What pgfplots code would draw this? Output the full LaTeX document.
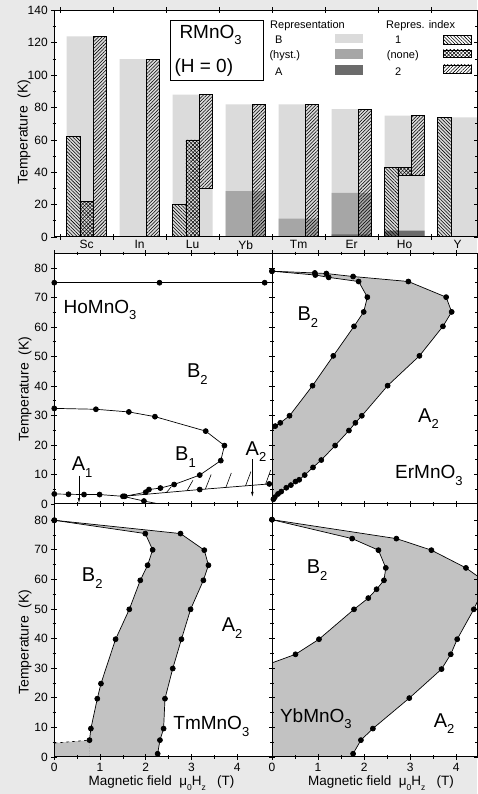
\documentclass[border=0pt]{standalone}
\usepackage{fontspec}
\setmainfont{Liberation Sans}
\usepackage{pgfplots}
\pgfplotsset{compat=1.18}
\usetikzlibrary{patterns.meta,arrows.meta}

\definecolor{bggray}{gray}{0.915}
\definecolor{repB}{gray}{0.86}
\definecolor{repH}{gray}{0.65}
\definecolor{repA}{gray}{0.42}
\definecolor{phase}{gray}{0.76}

\newcommand{\lab}{\fontsize{20}{20}\selectfont}
\newcommand{\cmp}{\fontsize{19}{19}\selectfont}
\newcommand{\bsub}[1]{\raisebox{-0.33em}{\fontsize{13}{13}\selectfont #1}}
\newcommand{\ssub}[1]{\raisebox{-0.35em}{\fontsize{8.5}{8.5}\selectfont #1}}

\tikzset{
  idx1/.style={pattern={Lines[angle=-45,distance=2.4pt,line width=0.55pt]}},
  idx2/.style={pattern={Lines[angle=45,distance=2.4pt,line width=0.55pt]}},
  idxn/.style={pattern={Lines[angle=45,distance=2.6pt,line width=0.5pt]},
    postaction={pattern={Lines[angle=-45,distance=2.6pt,line width=0.5pt]}}},
}

\pgfplotsset{
  panel/.style={
    scale only axis, anchor=south west,
    axis background/.style={fill=white},
    axis on top,
    axis line style={line width=1pt},
    tick style={black, line width=0.8pt},
    major tick length=6pt, minor tick length=3.5pt,
    tick align=center,
    tick label style={font=\fontsize{12}{13}\selectfont},
    /pgf/number format/assume math mode=true,
  },
  phase/.style={
    panel, xmin=0, ymin=0,
    xtick={0,...,4}, minor x tick num=1,
    ytick={0,10,...,80}, minor y tick num=1,
  },
  pl/.style={black, line width=0.7pt, mark=*, mark size=2.5pt},
}

\begin{document}
\begin{tikzpicture}
\useasboundingbox (0,0) rectangle (477pt,794pt);
\fill[bggray] (0,0) rectangle (477pt,794pt);

% ---- RMnO3 at H = 0 ----
\begin{axis}[panel, at={(54.3pt,557pt)}, width=422.7pt, height=226.5pt,
    xmin=-0.61, xmax=7.365, ymin=0, ymax=140,
    xtick={-0.5,0.5,...,7.5}, xticklabels={},
    extra x ticks={0,1,2,3,4,5,6,7},
    extra x tick labels={Sc,In,Lu,Yb,Tm,Er,Ho,Y},
    extra x tick style={major tick length=0pt},
    ytick={0,20,...,140}, minor y tick num=1]
  \addplot[ybar, bar width=0.755, bar shift=0, fill=repB, draw=none]
    coordinates {(0,124)(1,110)(2,88)(3,82)(4,82)(5,79)(6,75)(7,74)};
  \addplot[ybar, bar width=0.755, bar shift=0, fill=repH, draw=none]
    coordinates {(3,28.4)(4,11.3)(5,27.3)};
  \addplot[ybar, bar width=0.755, bar shift=0, fill=repA, draw=none]
    coordinates {(5,1.6)(6,3.9)};
  \addplot[ybar, bar width=0.252, bar shift=-0.252, draw=black, line width=0.7pt, idx1]
    coordinates {(0,62)(2,20)(6,43)(7,74)};
  \addplot[ybar, bar width=0.252, bar shift=0, draw=black, line width=0.7pt, idxn]
    coordinates {(0,22)(2,60)};
  \addplot[ybar, bar width=0.252, bar shift=0.252, draw=black, line width=0.7pt, idx2]
    coordinates {(0,124)(1,110)(3,82)(4,82)(5,79)};
  % bars that do not start at 0
  \addplot[draw=black, line width=0.7pt, idx2]
    coordinates {(2.126,30)(2.126,88)(2.378,88)(2.378,30)} --cycle;
  \addplot[draw=black, line width=0.7pt, idxn]
    coordinates {(5.874,38)(5.874,43)(6.126,43)(6.126,38)} --cycle;
  \addplot[draw=black, line width=0.7pt, idx2]
    coordinates {(6.126,38)(6.126,75)(6.378,75)(6.378,38)} --cycle;
\end{axis}

% ---- HoMnO3 ----
\begin{axis}[phase, at={(54.3pt,290pt)}, width=217.7pt, height=250.5pt,
    xmax=4.76, ymax=84.9, xticklabels={}]
  \addplot[pl, mark indices={1,2,3}] coordinates {(0,75)(2.3,75)(4.6,75)(4.9,75)};
  \addplot[pl] coordinates {(0,32.4)(0.91,32.1)(1.63,31.2)(2.2,29.6)(3.31,24.7)
    (3.72,19.8)(3.64,14.7)(3.18,9.8)(2.62,6.6)(2.32,5.4)(2.07,4.9)(2.0,4.0)(1.54,2.6)};
  \addplot[pl, mark indices={1,...,6}] coordinates {(0,3.4)(0.31,3.3)(0.65,3.2)
    (0.99,3.2)(1.5,2.6)(1.96,1.0)(2.4,-0.3)};
  \addplot[pl, mark indices={2,3}] coordinates {(1.5,2.6)(3.18,4.9)(4.7,6.8)(4.9,7.05)};
  \draw[line width=0.6pt] (axis cs:2.45,3.85) -- (axis cs:2.56,5.9)
    (axis cs:2.9,4.45) -- (axis cs:3.03,8.0)
    (axis cs:3.3,4.95) -- (axis cs:3.43,10.0)
    (axis cs:3.75,5.55) -- (axis cs:3.87,10.5)
    (axis cs:4.18,6.1) -- (axis cs:4.3,11.0)
    (axis cs:4.62,6.7) -- (axis cs:4.73,11.5);
  \draw[line width=0.6pt, -{Latex[length=5pt,width=2.6pt]}] (axis cs:0.54,9.6) -- (axis cs:0.54,0.3);
  \draw[line width=0.6pt, -{Latex[length=5pt,width=2.6pt]}] (axis cs:4.33,15.2) -- (axis cs:4.33,2.4);
  \node[anchor=base west, font=\cmp, inner sep=0] at (axis cs:0.2,64.6) {HoMnO\bsub{3}};
  \node[anchor=base west, font=\lab, inner sep=0] at (axis cs:2.9,42.9) {B\bsub{2}};
  \node[anchor=base west, font=\lab, inner sep=0] at (axis cs:2.64,14.7) {B\bsub{1}};
  \node[anchor=base west, font=\lab, inner sep=0] at (axis cs:0.38,11.3) {A\bsub{1}};
  \node[anchor=base west, font=\lab, inner sep=0] at (axis cs:4.18,16.6) {A\bsub{2}};
\end{axis}

% ---- ErMnO3 ----
\begin{axis}[phase, at={(272pt,290pt)}, width=205pt, height=250.5pt,
    xmax=4.45, ymax=84.9, xticklabels={}, yticklabels={}]
  \addplot[fill=phase, draw=none] coordinates {(0,78.9)(0.93,78.3)(1.18,78.1)(1.76,77.1)
    (2.96,75.4)(3.78,70.1)(3.9,65.1)(3.71,60.2)(3.2,50.2)(2.51,40.1)(1.95,29.9)(1.81,27.5)
    (1.67,24.9)(1.37,19.8)(1.07,14.9)(0.89,12.4)(0.71,9.8)(0.59,8.2)(0.51,7.6)(0.41,6.4)
    (0.31,5.5)(0.2,4.2)(0.13,3.4)(0.06,2.3)(0.03,1.6)(0,1.6)(0,24.9)(0.07,26.4)(0.18,27.5)
    (0.38,29.9)(0.88,40.1)(1.33,50.2)(1.78,60.2)(1.99,65.1)(2.07,70.1)(1.88,75.4)
    (1.23,76.8)(0.94,77.6)} --cycle;
  \addplot[pl] coordinates {(0,78.9)(0.93,78.3)(1.18,78.1)(1.76,77.1)
    (2.96,75.4)(3.78,70.1)(3.9,65.1)(3.71,60.2)(3.2,50.2)(2.51,40.1)(1.95,29.9)(1.81,27.5)
    (1.67,24.9)(1.37,19.8)(1.07,14.9)(0.89,12.4)(0.71,9.8)(0.59,8.2)(0.51,7.6)(0.41,6.4)
    (0.31,5.5)(0.2,4.2)(0.13,3.4)(0.06,2.3)(0.03,1.6)};
  \addplot[pl, mark indices={1,...,12}] coordinates {(0,78.9)(0.94,77.6)(1.23,76.8)
    (1.88,75.4)(2.07,70.1)(1.99,65.1)(1.78,60.2)(1.33,50.2)(0.88,40.1)(0.38,29.9)
    (0.18,27.5)(0.07,26.4)(0,24.9)};
  \node[anchor=base west, font=\lab, inner sep=0] at (axis cs:0.55,62.1) {B\bsub{2}};
  \node[anchor=base west, font=\lab, inner sep=0] at (axis cs:3.17,27.7) {A\bsub{2}};
  \node[anchor=base west, font=\cmp, inner sep=0] at (axis cs:2.67,8.5) {ErMnO\bsub{3}};
\end{axis}

% ---- TmMnO3 ----
\begin{axis}[phase, at={(54.3pt,37pt)}, width=217.7pt, height=253pt,
    xmax=4.76, ymax=85.5]
  \addplot[fill=phase, draw=none] coordinates {(0,80)(2.76,75.5)(3.28,69.9)(3.37,64.8)
    (3.26,59.7)(2.98,49.9)(2.78,39.8)(2.59,29.9)(2.42,19.7)(2.39,9.6)(2.31,5.7)(2.26,1.1)
    (2.24,0)(0,0)(0,4.7)(0.77,5.7)(0.8,9.6)(0.94,19.7)(1.02,24.8)(1.34,39.8)(1.64,49.9)
    (1.88,59.7)(2.04,64.8)(2.15,70)(1.99,75.5)} --cycle;
  \addplot[black, dashed, line width=0.6pt] coordinates {(0,4.7)(0.77,5.7)};
  \addplot[gray!60, densely dotted, line width=0.6pt] coordinates {(0.77,5.7)(0.77,0)};
  \addplot[pl] coordinates {(0,80)(2.76,75.5)(3.28,69.9)(3.37,64.8)(3.26,59.7)(2.98,49.9)
    (2.78,39.8)(2.59,29.9)(2.42,19.7)(2.39,9.6)(2.31,5.7)(2.26,1.1)};
  \addplot[pl] coordinates {(0,80)(1.99,75.5)(2.15,70)(2.04,64.8)(1.88,59.7)(1.64,49.9)
    (1.34,39.8)(1.02,24.8)(0.94,19.7)(0.8,9.6)(0.77,5.7)};
  \node[anchor=base west, font=\lab, inner sep=0] at (axis cs:0.6,59.2) {B\bsub{2}};
  \node[anchor=base west, font=\lab, inner sep=0] at (axis cs:3.66,42.3) {A\bsub{2}};
  \node[anchor=base west, font=\cmp, inner sep=0] at (axis cs:2.6,9.2) {TmMnO\bsub{3}};
\end{axis}

% ---- YbMnO3 ----
\begin{axis}[phase, at={(272pt,37pt)}, width=205pt, height=253pt,
    xmax=4.45, ymax=85.5, yticklabels={}]
  \addplot[fill=phase, draw=none] coordinates {(0,80.2)(2.7,73.8)(3.46,69.9)(4.21,63.9)
    (4.65,59)(4.38,49.9)(4.02,39.8)(3.88,34.7)(3.68,29.7)(2.98,19.9)(2.19,9.6)(1.93,5.7)
    (1.76,1.1)(1.72,0)(0,0)(0,31.8)(0.51,34.7)(1.02,39.8)(1.78,49.9)(2.09,53.7)(2.27,56.7)
    (2.43,59.7)(2.47,63.9)(2.31,69.9)(1.74,73.8)} --cycle;
  \addplot[pl] coordinates {(0,80.2)(2.7,73.8)(3.46,69.9)(4.21,63.9)(4.65,59)(4.38,49.9)
    (4.02,39.8)(3.88,34.7)(3.68,29.7)(2.98,19.9)(2.19,9.6)(1.93,5.7)(1.76,1.1)};
  \addplot[pl, mark indices={1,...,10}] coordinates {(0,80.2)(1.74,73.8)(2.31,69.9)
    (2.47,63.9)(2.43,59.7)(2.27,56.7)(2.09,53.7)(1.78,49.9)(1.02,39.8)(0.51,34.7)(0,31.8)};
  \node[anchor=base west, font=\lab, inner sep=0] at (axis cs:0.75,62) {B\bsub{2}};
  \node[anchor=base west, font=\lab, inner sep=0] at (axis cs:3.51,10.1) {A\bsub{2}};
  \node[anchor=base west, font=\cmp, inner sep=0] at (axis cs:0.17,11.8) {YbMnO\bsub{3}};
\end{axis}

% ---- axis titles ----
\node[rotate=90, font=\fontsize{14}{14}\selectfont] at (24pt,662pt) {Temperature\ \ (K)};
\node[rotate=90, font=\fontsize{14}{14}\selectfont] at (25pt,405pt) {Temperature\ \ (K)};
\node[rotate=90, font=\fontsize{14}{14}\selectfont] at (25pt,152pt) {Temperature\ \ (K)};
\node[font=\fontsize{13.5}{14}\selectfont] at (161.5pt,11pt)
  {Magnetic field\ \ μ\ssub{0}H\ssub{z}\ \ \ (T)};
\node[font=\fontsize{13.5}{14}\selectfont] at (381pt,11pt)
  {Magnetic field\ \ μ\ssub{0}H\ssub{z}\ \ \ (T)};

% ---- key of the bar panel ----
\draw[line width=0.8pt, fill=white] (170pt,714pt) rectangle (263.3pt,773.3pt);
\node[anchor=base west, font=\cmp, inner sep=0] at (179.3pt,755.7pt) {RMnO\bsub{3}};
\node[anchor=base west, font=\cmp, inner sep=0] at (174.3pt,721.3pt) {(H = 0)};
\begin{scope}[every node/.style={anchor=base west, inner sep=0, font=\fontsize{11}{11}\selectfont}]
  \node at (270pt,765.7pt) {Representation};
  \node at (275pt,750pt) {B};
  \node at (269.3pt,735.7pt) {(hyst.)};
  \node at (275pt,718pt) {A};
  \node at (386pt,765.7pt) {Repres. index};
  \node at (395pt,750pt) {1};
  \node at (386.7pt,735.7pt) {(none)};
  \node at (395pt,718pt) {2};
\end{scope}
\fill[repB] (335pt,750.7pt) rectangle (362.7pt,760pt);
\fill[repH] (335pt,734.7pt) rectangle (362.7pt,744.7pt);
\fill[repA] (335pt,719pt) rectangle (362.7pt,729pt);
\draw[line width=0.7pt, idx1] (443.3pt,749.7pt) rectangle (471.7pt,758.3pt);
\draw[line width=0.7pt, idxn] (443.3pt,736.7pt) rectangle (471.7pt,744pt);
\draw[line width=0.7pt, idx2] (443.3pt,720.7pt) rectangle (471.7pt,729pt);
\end{tikzpicture}
\end{document}
